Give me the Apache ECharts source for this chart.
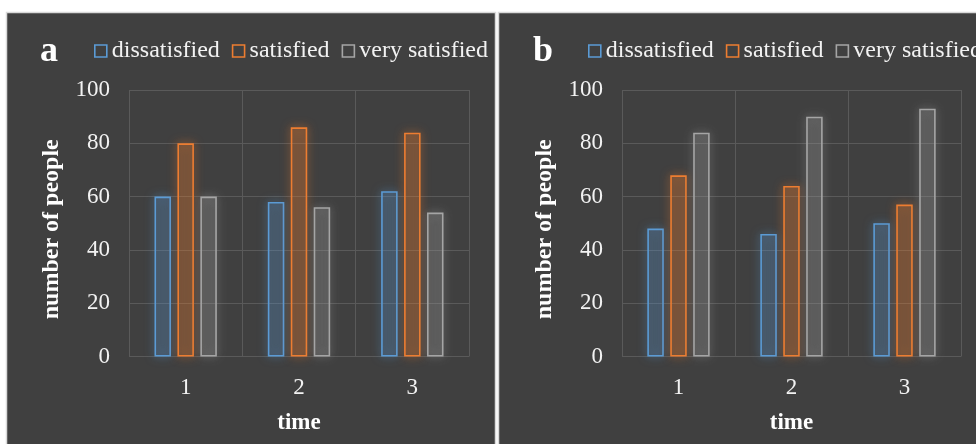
<!DOCTYPE html>
<html>
<head>
<meta charset="utf-8">
<script src="https://cdn.jsdelivr.net/npm/echarts@6/dist/echarts.min.js"></script>
<style>
html,body{margin:0;padding:0;background:#fff;}
#c{width:976px;height:444px;}
</style>
</head>
<body>
<div id="c"></div>
<script>
const categories = ['1', '2', '3'];
const seriesNames = ['dissatisfied', 'satisfied', 'very satisfied'];
const panelA_dissatisfied = [60, 58, 62];
const panelA_satisfied = [80, 86, 84];
const panelA_verySatisfied = [60, 56, 54];
const panelB_dissatisfied = [48, 46, 50];
const panelB_satisfied = [68, 64, 57];
const panelB_verySatisfied = [84, 90, 93];
const yTicks = [0, 20, 40, 60, 80, 100];

const colors = ['#5b9bd5', '#ed7d31', '#a5a5a5'];
const fills = ['rgba(91,155,213,0.15)', 'rgba(237,125,49,0.18)', 'rgba(165,165,165,0.15)'];
const glows = ['rgba(91,155,213,0.8)', 'rgba(237,125,49,0.8)', 'rgba(165,165,165,0.8)'];
const FONT = '"Liberation Serif", "Times New Roman", serif';

const chart = echarts.init(document.getElementById('c'), null, {renderer: 'canvas'});

function makeSeries(gridIdx, data) {
  return data.map((d, i) => ({
    name: seriesNames[i],
    type: 'bar',
    xAxisIndex: gridIdx,
    yAxisIndex: gridIdx,
    data: d,
    barWidth: 16.5,
    barGap: '39%',
    itemStyle: {
      color: fills[i],
      borderColor: colors[i],
      borderWidth: 1.6,
      shadowBlur: 10,
      shadowColor: glows[i]
    },
    emphasis: {disabled: true}
  }));
}

function xAxis(gridIdx) {
  return {
    type: 'category',
    gridIndex: gridIdx,
    data: categories,
    name: 'time',
    nameLocation: 'middle',
    nameGap: 55,
    nameTextStyle: {color: '#ffffff', fontFamily: FONT, fontSize: 23, fontWeight: 'bold'},
    axisLine: {show: false},
    axisTick: {show: false},
    axisLabel: {color: '#f2f2f2', fontFamily: FONT, fontSize: 23, margin: 20},
    splitLine: {show: true, lineStyle: {color: '#5a5a5a', width: 1}}
  };
}

function yAxis(gridIdx) {
  return {
    type: 'value',
    gridIndex: gridIdx,
    min: yTicks[0],
    max: yTicks[yTicks.length - 1],
    interval: yTicks[1] - yTicks[0],
    name: 'number of people',
    nameLocation: 'middle',
    nameGap: 65,
    nameTextStyle: {color: '#ffffff', fontFamily: FONT, fontSize: 24, fontWeight: 'bold', padding: [0, 12, 0, 0]},
    axisLine: {show: false},
    axisTick: {show: false},
    axisLabel: {color: '#f2f2f2', fontFamily: FONT, fontSize: 23, margin: 19},
    splitLine: {show: true, lineStyle: {color: '#5a5a5a', width: 1}}
  };
}

function legend(left) {
  return {
    left: left,
    top: 39,
    width: 700,
    padding: 0,
    icon: 'rect',
    itemWidth: 12,
    itemHeight: 12,
    itemGap: 12,
    data: seriesNames,
    selectedMode: false,
    textStyle: {color: '#f2f2f2', fontFamily: FONT, fontSize: 24},
    itemStyle: {color: 'rgba(0,0,0,0)', borderWidth: 1.6, shadowBlur: 0, shadowColor: 'rgba(0,0,0,0)'}
  };
}

chart.setOption({
  backgroundColor: '#ffffff',
  animation: false,
  graphic: [
    {type: 'rect', z: -10, shape: {x: 6.5, y: 12.5, width: 489, height: 440}, style: {fill: '#404040', stroke: '#d9d9d9', lineWidth: 1.5}},
    {type: 'rect', z: -10, shape: {x: 498.5, y: 12.5, width: 490, height: 440}, style: {fill: '#404040', stroke: '#d9d9d9', lineWidth: 1.5}}
  ],
  title: [
    {text: 'a', left: 35, top: 29, padding: [5, 5, 5, 5], textStyle: {color: '#ffffff', fontFamily: FONT, fontSize: 36, fontWeight: 'bold'}},
    {text: 'b', left: 528, top: 29, padding: [5, 5, 5, 5], textStyle: {color: '#ffffff', fontFamily: FONT, fontSize: 36, fontWeight: 'bold'}}
  ],
  legend: [legend(94), legend(588)],
  grid: [
    {left: 129, right: 507, top: 90, bottom: 87.5},
    {left: 622, right: 15, top: 90, bottom: 87.5}
  ],
  xAxis: [xAxis(0), xAxis(1)],
  yAxis: [yAxis(0), yAxis(1)],
  series: [
    ...makeSeries(0, [panelA_dissatisfied, panelA_satisfied, panelA_verySatisfied]),
    ...makeSeries(1, [panelB_dissatisfied, panelB_satisfied, panelB_verySatisfied])
  ]
});
</script>
</body>
</html>
